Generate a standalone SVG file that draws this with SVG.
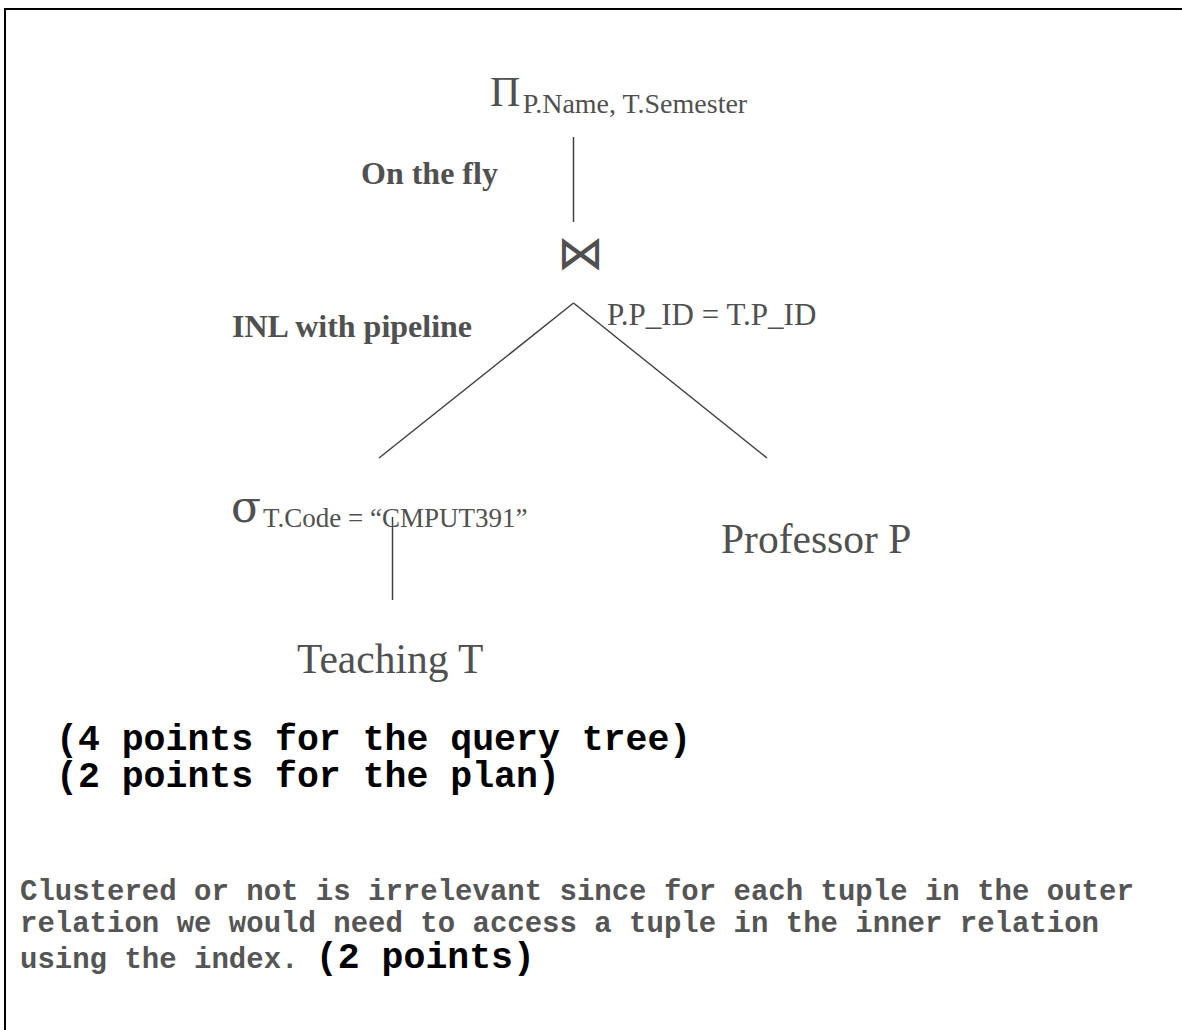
<svg xmlns="http://www.w3.org/2000/svg" width="1182" height="1030" viewBox="0 0 1182 1030">
<style>
.t{font-family:"Liberation Serif","Times New Roman",serif;fill:#505050}
.b{font-weight:bold}
.m{font-family:"Liberation Mono","Courier New",monospace;font-weight:bold}
.edge{stroke:#404040;stroke-width:1.5;fill:none}
</style>
<rect width="1182" height="1030" fill="#fff"/>
<g id="frame" stroke="#000" stroke-width="2" fill="none">
<line x1="4" y1="9" x2="1182" y2="9"/>
<line x1="5" y1="8" x2="5" y2="1030"/>
</g>
<g id="connectors">
<line class="edge" x1="573.5" y1="137" x2="573.5" y2="222"/>
<line class="edge" x1="573.5" y1="303" x2="379" y2="458"/>
<line class="edge" x1="573.5" y1="303" x2="767" y2="458"/>
<line class="edge" x1="392.5" y1="517" x2="392.5" y2="600"/>
</g>
<g id="project">
<text class="t" x="490" y="106" font-size="42">Π</text>
<text class="t" x="522.7" y="113" font-size="28">P.Name, T.Semester</text>
</g>
<g id="label-onthefly"><text class="t b" x="361" y="184" font-size="32">On the fly</text></g>
<g id="join">
<text x="580.5" y="269" font-size="47" text-anchor="middle" style="font-family:'DejaVu Sans',sans-serif;fill:#505050">⋈</text>
<text class="t" x="607" y="325" font-size="31">P.P_ID = T.P_ID</text>
</g>
<g id="label-inl"><text class="t b" x="232" y="337" font-size="32">INL with pipeline</text></g>
<g id="select">
<text x="231" y="522" font-size="44" style="font-family:'DejaVu Serif',serif;fill:#505050">σ</text>
<text class="t" x="263" y="527" font-size="27">T.Code = “CMPUT391”</text>
</g>
<g id="professor"><text class="t" x="721" y="553" font-size="41.5">Professor P</text></g>
<g id="teaching"><text class="t" x="297" y="673" font-size="41.5">Teaching T</text></g>
<g id="notes">
<text class="m" x="56" y="750" font-size="36.5" fill="#000">(4 points for the query tree)</text>
<text class="m" x="56" y="787" font-size="36.5" fill="#000">(2 points for the plan)</text>
<text class="m" x="20" y="900" font-size="29" fill="#555">Clustered or not is irrelevant since for each tuple in the outer</text>
<text class="m" x="20" y="932" font-size="29" fill="#555">relation we would need to access a tuple in the inner relation</text>
<text class="m" x="20" y="968" font-size="29"><tspan fill="#555">using the index. </tspan><tspan fill="#000" font-size="36.5">(2 points)</tspan></text>
</g>
</svg>
